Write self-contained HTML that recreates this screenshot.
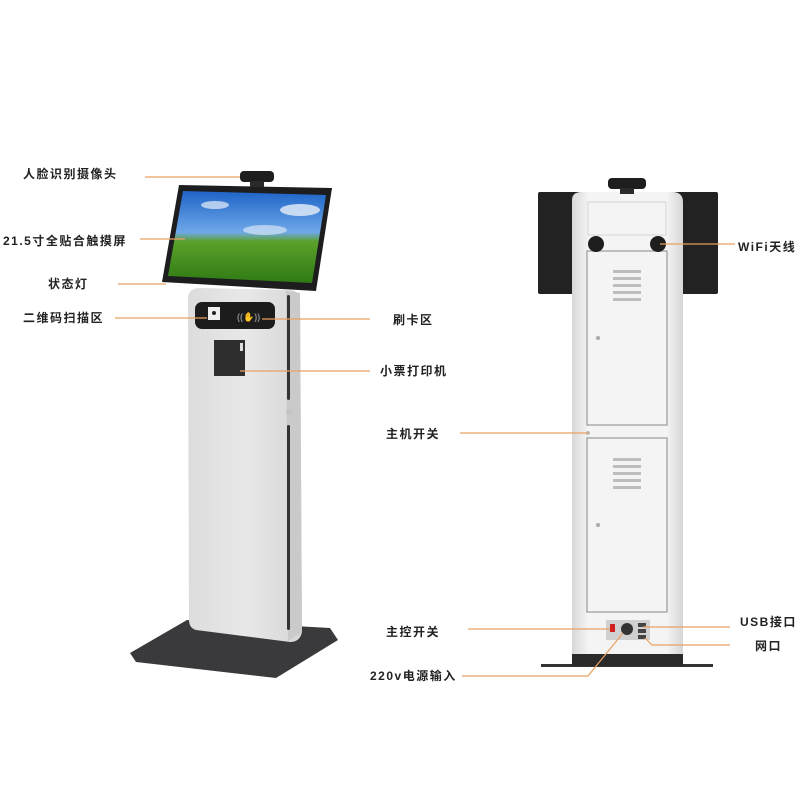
<!DOCTYPE html>
<html><head><meta charset="utf-8">
<style>
html,body{margin:0;padding:0;background:#fff;}
svg{display:block;}
text{font-family:"Liberation Sans","Noto Sans CJK SC",sans-serif;font-weight:bold;font-size:12px;fill:#222;letter-spacing:1.5px;}
</style></head><body>
<svg width="800" height="800" viewBox="0 0 800 800" xmlns="http://www.w3.org/2000/svg">
<defs>
<linearGradient id="sky" x1="0" y1="0" x2="0" y2="1">
<stop offset="0" stop-color="#1e64c8"/><stop offset="0.45" stop-color="#6fa8e8"/><stop offset="0.55" stop-color="#5aa02a"/><stop offset="1" stop-color="#2f7a14"/>
</linearGradient>
<linearGradient id="pil" x1="0" y1="0" x2="1" y2="0">
<stop offset="0" stop-color="#dcdcdc"/><stop offset="0.5" stop-color="#e8e8e8"/><stop offset="1" stop-color="#d6d6d6"/>
</linearGradient>
<linearGradient id="body" x1="0" y1="0" x2="1" y2="0">
<stop offset="0" stop-color="#d8d8d8"/><stop offset="0.15" stop-color="#f4f4f4"/><stop offset="0.85" stop-color="#f4f4f4"/><stop offset="1" stop-color="#d6d6d6"/>
</linearGradient>
</defs>

<!-- LEFT KIOSK -->
<polygon points="187,620 330,628 338,640 276,678 136,662 130,653" fill="#3a3a3c"/>
<path d="M188,296 Q190,288 200,288 L292,290 Q300,292 300,300 L302,632 Q300,642 290,642 L196,630 Q189,628 189,620 Z" fill="url(#pil)"/>
<path d="M286,291 L300,293 L302,632 L288,641 Z" fill="#cacaca"/>
<rect x="287" y="425" width="3" height="205" fill="#333" rx="1.5"/>
<rect x="287" y="295" width="3" height="105" fill="#333" rx="1.5"/>
<circle cx="289" cy="412" r="3" fill="#c4c4c4"/>
<!-- screen -->
<polygon points="179,185 332,188 316,291 162,282" fill="#1d1d1f"/>
<polygon points="183,191 326,195 312,283 168,276" fill="url(#sky)"/>
<ellipse cx="300" cy="210" rx="20" ry="6" fill="#e8f0fa" opacity="0.8"/>
<ellipse cx="215" cy="205" rx="14" ry="4" fill="#e8f0fa" opacity="0.7"/>
<ellipse cx="265" cy="230" rx="22" ry="5" fill="#e8f0fa" opacity="0.6"/>
<!-- camera -->
<rect x="240" y="171" width="34" height="11" rx="4" fill="#1e1e1e"/>
<rect x="250" y="181" width="14" height="6" fill="#2a2a2a"/>
<!-- scanner panel -->
<rect x="195" y="302" width="80" height="27" rx="7" fill="#1c1c1c"/>
<rect x="208" y="307" width="12" height="13" fill="#eee"/>
<circle cx="214" cy="313" r="2" fill="#222"/>
<text x="237" y="320" style="font-size:9px;fill:#888;letter-spacing:0">((✋))</text>
<!-- printer -->
<rect x="214" y="340" width="31" height="36" fill="#2e2e2e"/>
<rect x="240" y="343" width="3" height="8" fill="#ddd"/>

<!-- RIGHT KIOSK -->
<rect x="541" y="664" width="172" height="3" fill="#333"/>
<rect x="572" y="654" width="111" height="12" fill="#2a2a2a"/>
<rect x="538" y="192" width="180" height="102" rx="2" fill="#222"/>
<path d="M572,200 Q572,192 582,192 L672,192 Q683,192 683,202 L683,654 L572,654 Z" fill="url(#body)"/>
<rect x="588" y="202" width="78" height="33" fill="none" stroke="#d4d4d4" stroke-width="1"/>
<rect x="608" y="178" width="38" height="11" rx="4" fill="#1e1e1e"/>
<rect x="620" y="188" width="14" height="6" fill="#2a2a2a"/>
<rect x="587" y="251" width="80" height="174" fill="none" stroke="#999" stroke-width="1.2"/>
<rect x="587" y="438" width="80" height="174" fill="none" stroke="#999" stroke-width="1.2"/>
<circle cx="596" cy="244" r="8" fill="#1e1e1e"/>
<circle cx="658" cy="244" r="8" fill="#1e1e1e"/>
<g fill="#bdbdbd">
<rect x="613" y="270" width="28" height="3"/><rect x="613" y="277" width="28" height="3"/><rect x="613" y="284" width="28" height="3"/><rect x="613" y="291" width="28" height="3"/><rect x="613" y="298" width="28" height="3"/>
<rect x="613" y="458" width="28" height="3"/><rect x="613" y="465" width="28" height="3"/><rect x="613" y="472" width="28" height="3"/><rect x="613" y="479" width="28" height="3"/><rect x="613" y="486" width="28" height="3"/>
</g>
<circle cx="598" cy="338" r="2" fill="#aaa"/>
<circle cx="598" cy="525" r="2" fill="#aaa"/>
<circle cx="588" cy="433" r="2" fill="#bbb"/>
<rect x="606" y="620" width="44" height="20" fill="#d0d0d0"/>
<rect x="610" y="624" width="5" height="8" fill="#d02020"/>
<circle cx="627" cy="629" r="6" fill="#333"/>
<rect x="638" y="623" width="8" height="4" fill="#444"/>
<rect x="638" y="629" width="8" height="4" fill="#444"/>
<rect x="638" y="635" width="8" height="4" fill="#444"/>

<!-- LEADER LINES -->
<g stroke="#e8a060" stroke-width="1.2" fill="none">
<line x1="145" y1="177" x2="240" y2="177"/>
<line x1="140" y1="239" x2="185" y2="239"/>
<line x1="118" y1="284" x2="166" y2="284"/>
<line x1="115" y1="318" x2="207" y2="318"/>
<line x1="262" y1="319" x2="370" y2="319"/>
<line x1="240" y1="371" x2="370" y2="371"/>
<line x1="460" y1="433" x2="588" y2="433"/>
<line x1="468" y1="629" x2="610" y2="629"/>
<polyline points="462,676 588,676 623,633"/>
<line x1="660" y1="244" x2="735" y2="244"/>
<line x1="643" y1="627" x2="730" y2="627"/>
<polyline points="645,638 652,645 730,645"/>
</g>

<!-- LABELS -->
<text x="23" y="178">人脸识别摄像头</text>
<text x="3" y="245">21.5寸全贴合触摸屏</text>
<text x="48" y="288">状态灯</text>
<text x="23" y="322">二维码扫描区</text>
<text x="393" y="324">刷卡区</text>
<text x="380" y="375">小票打印机</text>
<text x="386" y="438">主机开关</text>
<text x="386" y="636">主控开关</text>
<text x="370" y="680">220v电源输入</text>
<text x="738" y="251">WiFi天线</text>
<text x="740" y="626">USB接口</text>
<text x="755" y="650">网口</text>
</svg>
</body></html>
